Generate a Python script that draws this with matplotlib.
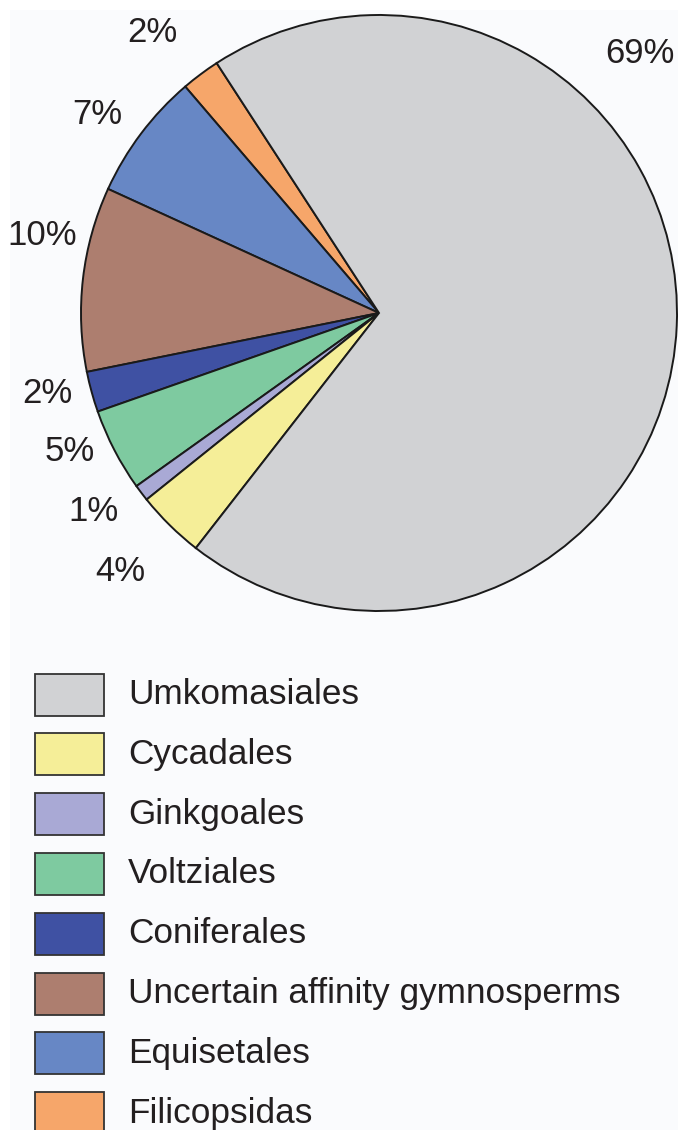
import numpy as np
import matplotlib
matplotlib.use("Agg")
import matplotlib.pyplot as plt
from matplotlib.patches import Rectangle

# ---- data (counter-clockwise order starting at upper-left) ----
categories = ["Filicopsidas", "Equisetales", "Uncertain affinity gymnosperms",
              "Coniferales", "Voltziales", "Ginkgoales", "Cycadales", "Umkomasiales"]
values = [2.1, 6.9, 10.0, 2.2, 4.5, 0.9, 3.7, 69.7]
pct_labels = ["2%", "7%", "10%", "2%", "5%", "1%", "4%", "69%"]
colors = ["#F6A66A", "#6787C5", "#AD7E6F", "#3F51A3", "#7ECAA0", "#A9A9D5", "#F5EE98", "#D1D2D4"]
legend_order = ["Umkomasiales", "Cycadales", "Ginkgoales", "Voltziales", "Coniferales",
                "Uncertain affinity gymnosperms", "Equisetales", "Filicopsidas"]

# ---- layout (label placement in polar terms, pixel geometry) ----
label_angle = [128.9, 144.8, 167.1, 193.7, 204.2, 214.9, 224.9, 44.9]
label_radius = [1.21, 1.158, 1.16, 1.147, 1.137, 1.167, 1.227, 1.235]

W, H = 678, 1130
fig = plt.figure(figsize=(W / 100, H / 100), dpi=100, facecolor="white")
ax = fig.add_axes([0, 0, 1, 1])

cx, cy, R = 379, H - 313, 298
wedges, _ = ax.pie(values, colors=colors, startangle=123, counterclock=True,
                   center=(cx, cy), radius=R, frame=True,
                   wedgeprops=dict(edgecolor="#1a1a1a", linewidth=1.4))
ax.set_xlim(0, W)
ax.set_ylim(0, H)
ax.set_aspect("equal")
ax.axis("off")

# faint background panel
ax.add_patch(Rectangle((10, 0), W - 10, H - 10, facecolor="#FAFBFD", edgecolor="none", zorder=0))

txt_color = "#231F20"
font = "Liberation Sans"
for lab, a, r in zip(pct_labels, label_angle, label_radius):
    x = cx + R * r * np.cos(np.radians(a))
    y = cy + R * r * np.sin(np.radians(a))
    ax.text(x, y, lab, ha="center", va="center", fontsize=25, color=txt_color, family=font)

# ---- legend ----
color_of = dict(zip(categories, colors))
y0 = H - 694.5
step = 59.8
for i, name in enumerate(legend_order):
    yc = y0 - i * step
    ax.add_patch(Rectangle((35, yc - 21), 69, 42, facecolor=color_of[name],
                           edgecolor="#333333", linewidth=1.3, zorder=2))
    ax.text(128, yc, name, ha="left", va="center", fontsize=25.3, color=txt_color, family=font)

fig.savefig("out.png", dpi=100, facecolor="white")
